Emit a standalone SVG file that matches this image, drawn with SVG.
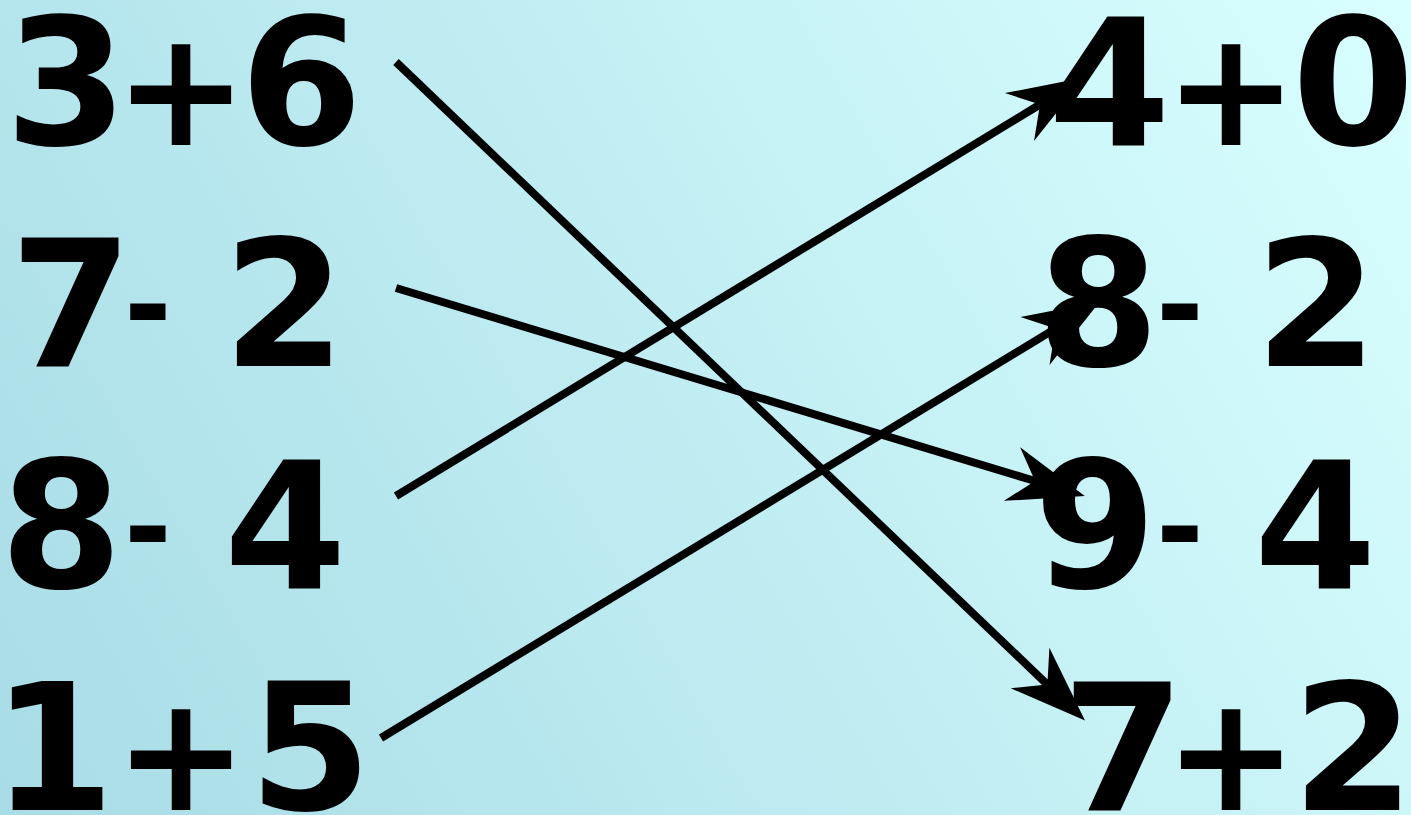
<svg xmlns="http://www.w3.org/2000/svg" width="1411" height="815" viewBox="0 0 1411 815">
<defs>
<linearGradient id="bg" x1="0" y1="815" x2="1411" y2="0" gradientUnits="userSpaceOnUse">
<stop offset="0" stop-color="#a8dce6"/>
<stop offset="1" stop-color="#d9ffff"/>
</linearGradient>
<marker id="arr" markerUnits="userSpaceOnUse" markerWidth="76" markerHeight="56" refX="24" refY="28" orient="auto" overflow="visible">
<path d="M76,28 L0,0 L24,28 L0,56 Z" fill="#000"/>
</marker>
<style>
.t{font-family:"DejaVu Sans","Liberation Sans",sans-serif;font-weight:bold;font-size:176px;fill:#000}
.p{font-size:160px}
.h{font-size:115px}
.c{stroke:#000;stroke-width:8;fill:none;marker-end:url(#arr)}
</style>
</defs>
<rect width="1411" height="815" fill="url(#bg)"/>
<g id="connectors">
<line class="c" x1="396" y1="62" x2="1047.4" y2="684.6"/>
<line class="c" x1="396" y1="288" x2="1035" y2="481"/>
<line class="c" x1="396" y1="496" x2="1040" y2="104.5"/>
<line class="c" x1="381" y1="738" x2="1055.5" y2="328.6"/>
</g>
<g id="n1"><text class="t" y="145"><tspan x="5">3</tspan><tspan class="p" x="114">+</tspan><tspan x="240">6</tspan></text></g>
<g id="n2"><text class="t" y="366"><tspan x="10">7</tspan><tspan class="h" x="124" dy="-21">- </tspan><tspan x="223" dy="21">2</tspan></text></g>
<g id="n3"><text class="t" y="588"><tspan x="0">8</tspan><tspan class="h" x="124" dy="-21">- </tspan><tspan x="224" dy="21">4</tspan></text></g>
<g id="n4"><text class="t" y="810"><tspan x="-8">1</tspan><tspan class="p" x="114">+</tspan><tspan x="249">5</tspan></text></g>
<g id="n5"><text class="t" y="145"><tspan x="1048">4</tspan><tspan class="p" x="1164">+</tspan><tspan x="1292">0</tspan></text></g>
<g id="n6"><text class="t" y="366"><tspan x="1037">8</tspan><tspan class="h" x="1156" dy="-21">- </tspan><tspan x="1255" dy="21">2</tspan></text></g>
<g id="n7"><text class="t" y="588"><tspan x="1034">9</tspan><tspan class="h" x="1156" dy="-21">- </tspan><tspan x="1254" dy="21">4</tspan></text></g>
<g id="n8"><text class="t" y="810"><tspan x="1062">7</tspan><tspan class="p" x="1164">+</tspan><tspan x="1292">2</tspan></text></g>
</svg>
